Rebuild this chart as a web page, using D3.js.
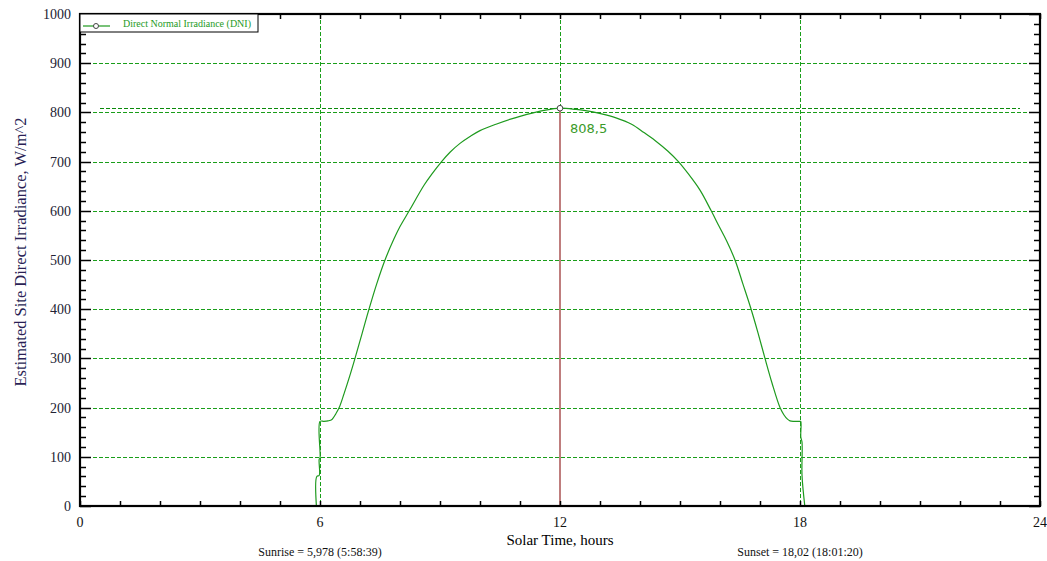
<!DOCTYPE html>
<html>
<head>
<meta charset="utf-8">
<script src="https://cdn.jsdelivr.net/npm/d3@7"></script>
<style>
  body { margin: 0; background: #fff; }
  svg { display: block; }
</style>
</head>
<body>
<svg id="chart" width="1047" height="561"></svg>
<script>
// solar time (hours) and direct normal irradiance (W/m^2)
var hours = [5.91, 5.92, 5.98, 5.98, 6.0, 6.0, 6.1, 6.2, 6.3, 6.4, 6.48, 6.6, 6.75, 6.875, 7.05, 7.225, 7.42, 7.625,
             7.85, 8.0, 8.23, 8.6, 8.8, 9.04, 9.25, 9.5, 9.75, 10.0, 10.4, 10.83, 11.0, 11.33, 11.6, 12.0,
             12.4, 12.6, 13.04, 13.4, 13.79, 14.1, 14.375, 14.7, 14.96, 15.2, 15.5, 15.78, 15.98, 16.17, 16.375,
             16.57, 16.77, 16.95, 17.125, 17.3, 17.5, 17.6, 17.68, 17.75, 17.85, 18.0, 18.02, 18.02, 18.05, 18.05, 18.12];
var dni = [0, 60, 62, 95, 97, 172, 172, 173, 176, 188, 200, 228, 266, 300, 350, 400, 452, 500,
           543, 568, 600, 652, 675, 700, 719, 737, 751, 763, 776, 788, 792, 799, 804, 808.5,
           806, 804, 797, 789, 776, 759, 743, 721, 700, 676, 642, 600, 568, 538, 500,
           452, 402, 352, 300, 250, 200, 185, 177, 173, 172, 172, 172, 140, 130, 63, 0];
var xTicks = [0, 6, 12, 18, 24];
var yTicks = [0, 100, 200, 300, 400, 500, 600, 700, 800, 900, 1000];
var gridX = [6, 12, 18];
var peak = {hour: 12, value: 808.5, label: "808,5"};
var seriesName = "Direct Normal Irradiance (DNI)";
var sunriseText = "Sunrise = 5,978 (5:58:39)";
var sunsetText = "Sunset = 18,02 (18:01:20)";
var sunriseAt = 6, sunsetAt = 18;

var width = 1047, height = 561;
var margin = {top: 14, right: 7, bottom: 55, left: 80};
var green = "#1e9a1e";
var gridGreen = "#1a9e1a";
var serif = "'Liberation Serif', 'Times New Roman', serif";

var svg = d3.select("#chart");

var x = d3.scaleLinear().domain([0, 24]).range([margin.left, width - margin.right]);
var y = d3.scaleLinear().domain([0, 1000]).range([height - margin.bottom, margin.top]);

// horizontal grid
svg.append("g")
    .selectAll("line")
    .data(yTicks.filter(function (d) { return d > 0 && d < 1000; }))
    .enter().append("line")
        .attr("x1", x(0) + 13)
        .attr("x2", x(24) - 10)
        .attr("y1", function (d) { return Math.round(y(d)) + 0.5; })
        .attr("y2", function (d) { return Math.round(y(d)) + 0.5; })
        .attr("stroke", gridGreen)
        .attr("stroke-width", 1)
        .attr("stroke-dasharray", "4,2");

// vertical grid
svg.append("g")
    .selectAll("line")
    .data(gridX)
    .enter().append("line")
        .attr("x1", function (d) { return Math.round(x(d)) + 0.5; })
        .attr("x2", function (d) { return Math.round(x(d)) + 0.5; })
        .attr("y1", y(1000))
        .attr("y2", y(0))
        .attr("stroke", gridGreen)
        .attr("stroke-width", 1)
        .attr("stroke-dasharray", "4,2");

// peak level line
svg.append("line")
    .attr("x1", x(0) + 20)
    .attr("x2", x(24) - 20)
    .attr("y1", Math.round(y(peak.value)) + 0.5)
    .attr("y2", Math.round(y(peak.value)) + 0.5)
    .attr("stroke", "#0a8a0a")
    .attr("stroke-width", 1)
    .attr("stroke-dasharray", "4,2");

// peak drop line
svg.append("line")
    .attr("x1", x(peak.hour))
    .attr("x2", x(peak.hour))
    .attr("y1", y(peak.value))
    .attr("y2", y(0))
    .attr("stroke", "#bf7d7d")
    .attr("stroke-width", 2);

// the DNI curve
var line = d3.line()
    .x(function (d, i) { return x(hours[i]); })
    .y(function (d) { return y(d); })
    .curve(d3.curveCatmullRom.alpha(0.5));

svg.append("path")
    .datum(dni)
    .attr("d", line)
    .attr("fill", "none")
    .attr("stroke", green)
    .attr("stroke-width", 1.2);

svg.append("circle")
    .attr("cx", x(peak.hour))
    .attr("cy", y(peak.value))
    .attr("r", 2.8)
    .attr("fill", "#fff")
    .attr("stroke", "#444")
    .attr("stroke-width", 1);

svg.append("text")
    .attr("x", x(peak.hour) + 10)
    .attr("y", y(peak.value) + 25)
    .attr("font-family", "'DejaVu Sans', Verdana, sans-serif")
    .attr("font-size", 13)
    .attr("fill", "#3a9a2a")
    .text(peak.label);

// frame and ticks
var xAxisB = d3.axisBottom(x).tickValues(d3.range(0, 25, 1)).tickSizeInner(-5).tickSizeOuter(0).tickFormat("");
var xAxisT = d3.axisTop(x).tickValues(d3.range(0, 25, 1)).tickSizeInner(-5).tickSizeOuter(0).tickFormat("");
var yMinor = d3.range(0, 1001, 20).filter(function (d) { return d % 100 != 0; });

function yTicksOn(g, side) {
    var dir = side == "left" ? 1 : -1;
    var x0 = side == "left" ? x(0) : x(24);
    g.selectAll("line.minor").data(yMinor).enter().append("line")
        .attr("x1", x0).attr("x2", x0 + dir * 6)
        .attr("y1", function (d) { return Math.round(y(d)) + 0.5; })
        .attr("y2", function (d) { return Math.round(y(d)) + 0.5; })
        .attr("stroke", "#000").attr("stroke-width", 1.5);
    g.selectAll("line.major").data(yTicks).enter().append("line")
        .attr("x1", x0).attr("x2", x0 + dir * 11)
        .attr("y1", function (d) { return Math.round(y(d)) + 0.5; })
        .attr("y2", function (d) { return Math.round(y(d)) + 0.5; })
        .attr("stroke", "#000").attr("stroke-width", 1.5);
}

svg.append("g").attr("transform", "translate(0," + y(0) + ")").call(xAxisB)
    .call(function (g) { g.select(".domain").remove(); g.selectAll("line").attr("stroke-width", 1.5); });
svg.append("g").attr("transform", "translate(0," + y(1000) + ")").call(xAxisT)
    .call(function (g) { g.select(".domain").remove(); g.selectAll("line").attr("stroke-width", 1.5); });
yTicksOn(svg.append("g"), "left");
yTicksOn(svg.append("g"), "right");

svg.append("rect")
    .attr("x", x(0))
    .attr("y", y(1000))
    .attr("width", x(24) - x(0))
    .attr("height", y(0) - y(1000))
    .attr("fill", "none")
    .attr("stroke", "#000")
    .attr("stroke-width", 2.2);

// tick labels
svg.append("g")
    .selectAll("text")
    .data(xTicks)
    .enter().append("text")
        .attr("x", function (d) { return x(d); })
        .attr("y", y(0) + 21)
        .attr("text-anchor", "middle")
        .attr("font-family", serif)
        .attr("font-size", 14)
        .attr("fill", "#111")
        .text(function (d) { return d; });

svg.append("g")
    .selectAll("text")
    .data(yTicks)
    .enter().append("text")
        .attr("x", x(0) - 9)
        .attr("y", function (d) { return y(d) + 5; })
        .attr("text-anchor", "end")
        .attr("font-family", serif)
        .attr("font-size", 14)
        .attr("fill", "#222233")
        .text(function (d) { return d; });

// axis titles
svg.append("text")
    .attr("x", x(12))
    .attr("y", y(0) + 39)
    .attr("text-anchor", "middle")
    .attr("font-family", serif)
    .attr("font-size", 15)
    .attr("fill", "#000")
    .text("Solar Time, hours");

svg.append("text")
    .attr("transform", "translate(26,252) rotate(-90)")
    .attr("text-anchor", "middle")
    .attr("font-family", serif)
    .attr("font-size", 16.5)
    .attr("fill", "#2a1f55")
    .text("Estimated Site Direct Irradiance, W/m^2");

svg.append("text")
    .attr("x", x(sunriseAt))
    .attr("y", y(0) + 50)
    .attr("text-anchor", "middle")
    .attr("font-family", serif)
    .attr("font-size", 12)
    .attr("fill", "#111")
    .text(sunriseText);

svg.append("text")
    .attr("x", x(sunsetAt))
    .attr("y", y(0) + 50)
    .attr("text-anchor", "middle")
    .attr("font-family", serif)
    .attr("font-size", 12)
    .attr("fill", "#111")
    .text(sunsetText);

// legend
var legend = svg.append("g");
legend.append("rect")
    .attr("x", x(0))
    .attr("y", y(1000))
    .attr("width", 178)
    .attr("height", 18)
    .attr("fill", "#fff")
    .attr("stroke", "#000")
    .attr("stroke-width", 1);
legend.append("line")
    .attr("x1", x(0) + 3).attr("x2", x(0) + 30)
    .attr("y1", y(1000) + 12).attr("y2", y(1000) + 12)
    .attr("stroke", green).attr("stroke-width", 1.2);
legend.append("circle")
    .attr("cx", x(0) + 16).attr("cy", y(1000) + 12).attr("r", 2.5)
    .attr("fill", "#fff").attr("stroke", "#444");
legend.append("text")
    .attr("x", x(0) + 43)
    .attr("y", y(1000) + 13)
    .attr("font-family", serif)
    .attr("font-size", 10)
    .attr("fill", green)
    .text(seriesName);
</script>
</body>
</html>
